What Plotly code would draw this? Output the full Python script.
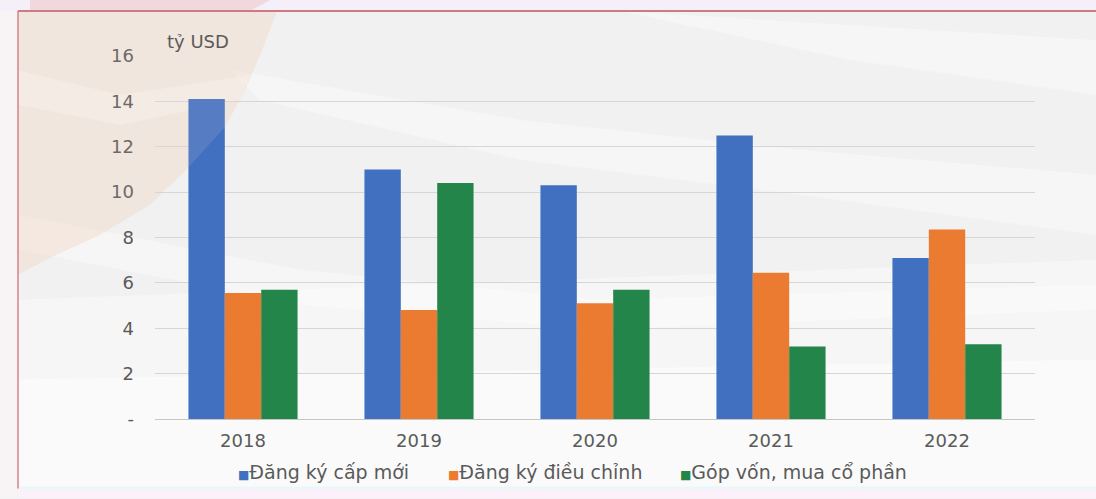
import plotly.graph_objects as go

# FDI into Vietnam by channel, billions of USD
years = ["2018", "2019", "2020", "2021", "2022"]
series_names = ["Đăng ký cấp mới", "Đăng ký điều chỉnh", "Góp vốn, mua cổ phần"]
new_registration = [14.1, 11.0, 10.3, 12.5, 7.1]
adjusted_capital = [5.55, 4.8, 5.1, 6.45, 8.35]
capital_contribution = [5.7, 10.4, 5.7, 3.2, 3.3]
y_ticks = [0, 2, 4, 6, 8, 10, 12, 14, 16]
y_ticktext = ["-", "2", "4", "6", "8", "10", "12", "14", "16"]
unit_label = "tỷ USD"

colors = ["#4170C1", "#EB7B30", "#23854A"]
values = [new_registration, adjusted_capital, capital_contribution]

FONT = "DejaVu Sans, Verdana, sans-serif"
TXT = "#5a5a5a"

W, H = 1096, 499
PL, PR, PT, PB = 155, 1035, 56, 419.5


def px(x):
    return (x - PL) / (PR - PL)


def py(y):
    return (PB - y) / (PB - PT)


def path(points):
    return "M " + " L ".join(f"{px(x):.5f},{py(y):.5f}" for x, y in points) + " Z"


def region(points, fill, layer="below"):
    return dict(type="path", xref="paper", yref="paper", layer=layer,
                path=path(points), fillcolor=fill, line_width=0)


fig = go.Figure()
for name, vals, col in zip(series_names, values, colors):
    fig.add_trace(go.Bar(x=years, y=vals, name=name, marker_color=col,
                         marker_line_width=0, showlegend=False))

# outline of the warm swoosh in the top-left corner
swoosh = [(18, 11), (277, 11), (262, 50), (245, 90), (225, 127), (189, 167),
          (150, 205), (100, 235), (50, 258), (18, 275)]

shapes = [
    # page background
    dict(type="rect", xref="paper", yref="paper", layer="below",
         x0=px(0), x1=px(W), y0=py(H), y1=py(0), fillcolor="#f1f1f1", line_width=0),
    # brighter lower half
    region([(18, 300), (1096, 260), (1096, 488), (18, 488)], "rgba(255,255,255,0.35)"),
    region([(18, 380), (1096, 360), (1096, 488), (18, 488)], "rgba(255,255,255,0.45)"),
    # light diagonal streaks
    region([(230, 70), (520, 120), (800, 150), (1096, 175), (1096, 235),
            (800, 195), (520, 160), (260, 100)], "rgba(255,255,255,0.4)"),
    region([(18, 215), (300, 270), (600, 300), (1096, 285), (1096, 310),
            (600, 330), (300, 305), (18, 250)], "rgba(255,255,255,0.35)"),
    region([(620, 11), (1096, 40), (1096, 95), (850, 60)], "rgba(255,255,255,0.35)"),
    # warm swoosh
    region(swoosh, "rgba(244,222,205,0.5)"),
    region([(18, 70), (120, 95), (250, 75), (240, 100), (120, 125), (18, 105)],
           "rgba(255,255,255,0.25)"),
    # strip above the frame
    dict(type="rect", xref="paper", yref="paper", layer="below",
         x0=px(0), x1=px(W), y0=py(11), y1=py(0), fillcolor="#f4eff8", line_width=0),
    region([(30, 0), (270, 0), (250, 11), (30, 11)], "rgba(236,200,205,0.6)"),
    # strips left of and below the frame
    dict(type="rect", xref="paper", yref="paper", layer="below",
         x0=px(0), x1=px(17), y0=py(H), y1=py(11), fillcolor="#f8f3f5", line_width=0),
    dict(type="rect", xref="paper", yref="paper", layer="below",
         x0=px(18), x1=px(W), y0=py(H), y1=py(489), fillcolor="#fcf0fb", line_width=0),
    dict(type="line", xref="paper", yref="paper", layer="below",
         x0=px(18), x1=px(W), y0=py(488), y1=py(488),
         line=dict(color="#e3fafa", width=2)),
    # faint glare of the swoosh over the marks
    region(swoosh, "rgba(235,225,215,0.12)", layer="above"),
    # red frame edges
    dict(type="line", xref="paper", yref="paper", layer="above",
         x0=px(18), x1=px(W), y0=py(11), y1=py(11),
         line=dict(color="#cf7a82", width=2)),
    dict(type="line", xref="paper", yref="paper", layer="above",
         x0=px(18), x1=px(18), y0=py(489), y1=py(11),
         line=dict(color="#d9808c", width=1.5)),
]

annotations = [dict(xref="paper", yref="paper", x=px(165), y=py(41),
                    xanchor="left", yanchor="middle", showarrow=False,
                    text=unit_label, font=dict(family=FONT, size=18, color=TXT))]

# legend row: a small coloured square followed by the series name
legend_x = [236, 446, 678]
for name, col, lx in zip(series_names, colors, legend_x):
    annotations.append(dict(
        xref="paper", yref="paper", x=px(lx), y=py(473),
        xanchor="left", yanchor="middle", showarrow=False,
        text=f'<span style="color:{col};font-size:12px">■</span>{name}',
        font=dict(family=FONT, size=19, color=TXT)))

fig.update_layout(
    width=W, height=H,
    margin=dict(l=PL, r=W - PR, t=PT, b=H - PB),
    paper_bgcolor="#f1f1f1",
    plot_bgcolor="rgba(0,0,0,0)",
    barmode="group", bargap=0.38, bargroupgap=0,
    font=dict(family=FONT, size=18, color=TXT),
    shapes=shapes, annotations=annotations,
    showlegend=False,
)
fig.update_xaxes(showgrid=False, showline=False, ticks="",
                 tickfont=dict(family=FONT, size=18, color=TXT), ticklabelstandoff=9)
fig.update_yaxes(range=[0, 16], tickvals=y_ticks, ticktext=y_ticktext,
                 showgrid=True, gridcolor="#d6d6d6", gridwidth=1,
                 zeroline=True, zerolinecolor="#c6c6c6", zerolinewidth=1,
                 showline=False, ticks="", ticklabelstandoff=20,
                 tickfont=dict(family=FONT, size=18, color=TXT))

fig.write_html("out.html")
